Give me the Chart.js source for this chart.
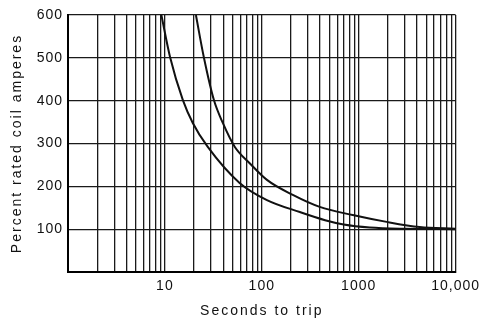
<!DOCTYPE html>
<html>
<head>
<meta charset="utf-8">
<script src="https://cdn.jsdelivr.net/npm/chart.js@4.4.1/dist/chart.umd.min.js"></script>
<style>
  html, body { margin: 0; padding: 0; background: #fff; }
  #wrap { width: 483px; height: 320px; }
</style>
</head>
<body>
<div id="wrap"><canvas id="c" width="483" height="320"></canvas></div>
<script>
// Curve 1 (left / lower curve)
const timeA = [9.2, 11.3, 15.3, 19.4, 27.7, 59, 113, 247, 450, 700, 1300, 3000, 10000];
const ampsA = [600, 502, 402, 348, 292, 208, 168, 140, 121, 111, 104, 101, 100];
// Curve 2 (right / upper curve)
const timeB = [20.9, 25.2, 32, 39.6, 52.7, 75, 113, 209, 396, 867, 1944, 4255, 10000];
const ampsB = [600, 502, 402, 348, 292, 254, 215, 180, 152, 133, 117, 105, 101];
// Axis ticks
const xGridValues = [1,2,3,4,5,6,7,8,9,10,20,30,40,50,60,70,80,90,100,200,300,400,500,600,700,800,900,1000,2000,3000,4000,5000,6000,7000,8000,9000,10000];
const xTickLabels = {10: '10', 100: '100', 1000: '1000', 10000: '10,000'};
const yTickValues = [100, 200, 300, 400, 500, 600];
const xTitle = 'Seconds to trip';
const yTitle = 'Percent rated coil amperes';

const FONT = "'Liberation Sans', Arial, sans-serif";

const spacingPlugin = {
  id: 'spacing',
  beforeDraw(chart) { chart.ctx.letterSpacing = '1px'; },
  afterLayout(chart) {
    Object.values(chart.scales).forEach(s => {
      if (s._patched) return;
      const orig = s.drawTitle.bind(s);
      s.drawTitle = function () {
        const ctx = chart.ctx;
        const prev = ctx.letterSpacing;
        ctx.letterSpacing = '2px';
        orig();
        ctx.letterSpacing = prev;
      };
      s._patched = true;
    });
  }
};

new Chart(document.getElementById('c'), {
  type: 'line',
  data: {
    datasets: [
      { data: timeA.map((t, i) => ({ x: t, y: ampsA[i] })), borderColor: '#111', borderWidth: 2, pointRadius: 0, tension: 0.4, cubicInterpolationMode: 'monotone', fill: false },
      { data: timeB.map((t, i) => ({ x: t, y: ampsB[i] })), borderColor: '#111', borderWidth: 2, pointRadius: 0, tension: 0.4, cubicInterpolationMode: 'monotone', fill: false }
    ]
  },
  plugins: [spacingPlugin],
  options: {
    responsive: false,
    animation: false,
    events: [],
    layout: { padding: { left: 0, right: 27, top: 15, bottom: 0 } },
    plugins: { legend: { display: false }, tooltip: { enabled: false } },
    scales: {
      x: {
        type: 'logarithmic',
        min: 1,
        max: 10000,
        afterBuildTicks(scale) { scale.ticks = xGridValues.map(v => ({ value: v })); },
        afterFit(scale) { scale.height = 48; },
        grid: { color: '#1a1a1a', lineWidth: 1.3, drawTicks: false },
        border: { display: true, color: '#000', width: 2 },
        ticks: {
          autoSkip: false, maxRotation: 0, minRotation: 0, padding: 6,
          color: '#111', font: { family: FONT, size: 14 },
          callback: (v) => xTickLabels[v] || ''
        },
        title: { display: true, text: xTitle, color: '#111', font: { family: FONT, size: 14 }, padding: { top: 4, bottom: 0 } }
      },
      y: {
        min: 0,
        max: 600,
        afterBuildTicks(scale) { scale.ticks = [0].concat(yTickValues).map(v => ({ value: v })); },
        afterFit(scale) { scale.width = 68; },
        grid: { color: '#1a1a1a', lineWidth: 1.3, drawTicks: false },
        border: { display: true, color: '#000', width: 2 },
        ticks: {
          padding: 5, color: '#111', font: { family: FONT, size: 14 },
          callback: (v) => (v === 0 ? '' : String(v))
        },
        title: { display: true, text: yTitle, color: '#111', font: { family: FONT, size: 14 }, padding: { top: 9, bottom: 0 } }
      }
    }
  }
});
</script>
</body>
</html>
